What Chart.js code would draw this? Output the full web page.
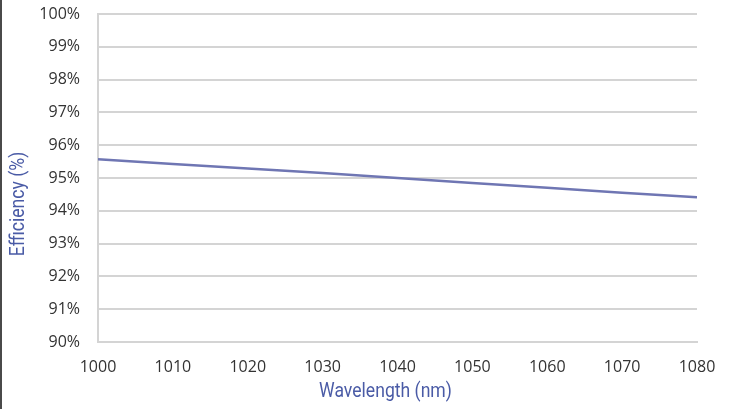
<!DOCTYPE html>
<html>
<head>
<meta charset="utf-8">
<script src="https://cdn.jsdelivr.net/npm/chart.js@4/dist/chart.umd.min.js"></script>
<style>
  html, body { margin:0; padding:0; background:#fff; }
  #wrap { position:relative; width:731px; height:409px; }
  #wrap:before { content:''; position:absolute; left:0; top:0; bottom:0; width:2px; background:#4a4a4a; }
  canvas { display:block; }
</style>
</head>
<body>
<div id="wrap"><canvas id="chart" width="731" height="409"></canvas></div>
<script>
// --- DATA ---
const wavelengths = [1000, 1010, 1020, 1030, 1040, 1050, 1060, 1070, 1080];
const efficiency = [95.57, 95.43, 95.29, 95.15, 95.00, 94.85, 94.70, 94.55, 94.41];
const xTitle = 'Wavelength (nm)';
const yTitle = 'Efficiency (%)';

const tickFont = {family:'"Open Sans", sans-serif', size:16};
const titleColor = '#4a5ba6';
const gridColor = '#d4d4d4';

// axis titles drawn by hand so they sit where the original has them
const axisTitles = {
  id:'axisTitles',
  afterDraw(chart){
    const {ctx, chartArea} = chart;
    ctx.save();
    ctx.fillStyle = titleColor;
    ctx.font = '20px Roboto, "Open Sans", sans-serif';
    ctx.textAlign = 'center';
    ctx.textBaseline = 'middle';
    ctx.save();
    ctx.translate((chartArea.left + chartArea.right)/2 - 12, 392);
    ctx.scale(0.88, 1);
    ctx.fillText(xTitle, 0, 0);
    ctx.restore();
    ctx.translate(19, (chartArea.top + chartArea.bottom)/2 + 26);
    ctx.rotate(-Math.PI/2);
    ctx.scale(0.88, 1);
    ctx.fillText(yTitle, 0, 0);
    ctx.restore();
  }
};

new Chart(document.getElementById('chart'), {
  type:'line',
  data:{
    datasets:[{
      data: wavelengths.map((w, i) => ({x:w, y:efficiency[i]})),
      borderColor:'#6f76b3',
      borderWidth:2.5,
      pointRadius:0,
      tension:0
    }]
  },
  options:{
    responsive:false,
    animation:false,
    layout:{padding:{top:14, right:34, left:0, bottom:0}},
    plugins:{legend:{display:false}, tooltip:{enabled:false}},
    scales:{
      x:{
        type:'linear', min:1000, max:1080,
        ticks:{stepSize:10, color:'#333', font:tickFont, padding:16, maxRotation:0, callback:v => String(v)},
        grid:{display:false, drawTicks:false},
        border:{display:true, color:gridColor, width:2},
        afterFit(s){ s.height = 409 - 342; s.paddingLeft = 0; s.paddingRight = 0; }
      },
      y:{
        min:90, max:100,
        ticks:{stepSize:1, color:'#333', font:tickFont, padding:18, callback:v => v + '%'},
        grid:{color:gridColor, lineWidth:2, drawTicks:false},
        border:{display:true, color:gridColor, width:2},
        afterFit(s){ s.width = 98; s.paddingTop = 0; s.paddingBottom = 0; }
      }
    }
  },
  plugins:[axisTitles]
});
</script>
</body>
</html>
